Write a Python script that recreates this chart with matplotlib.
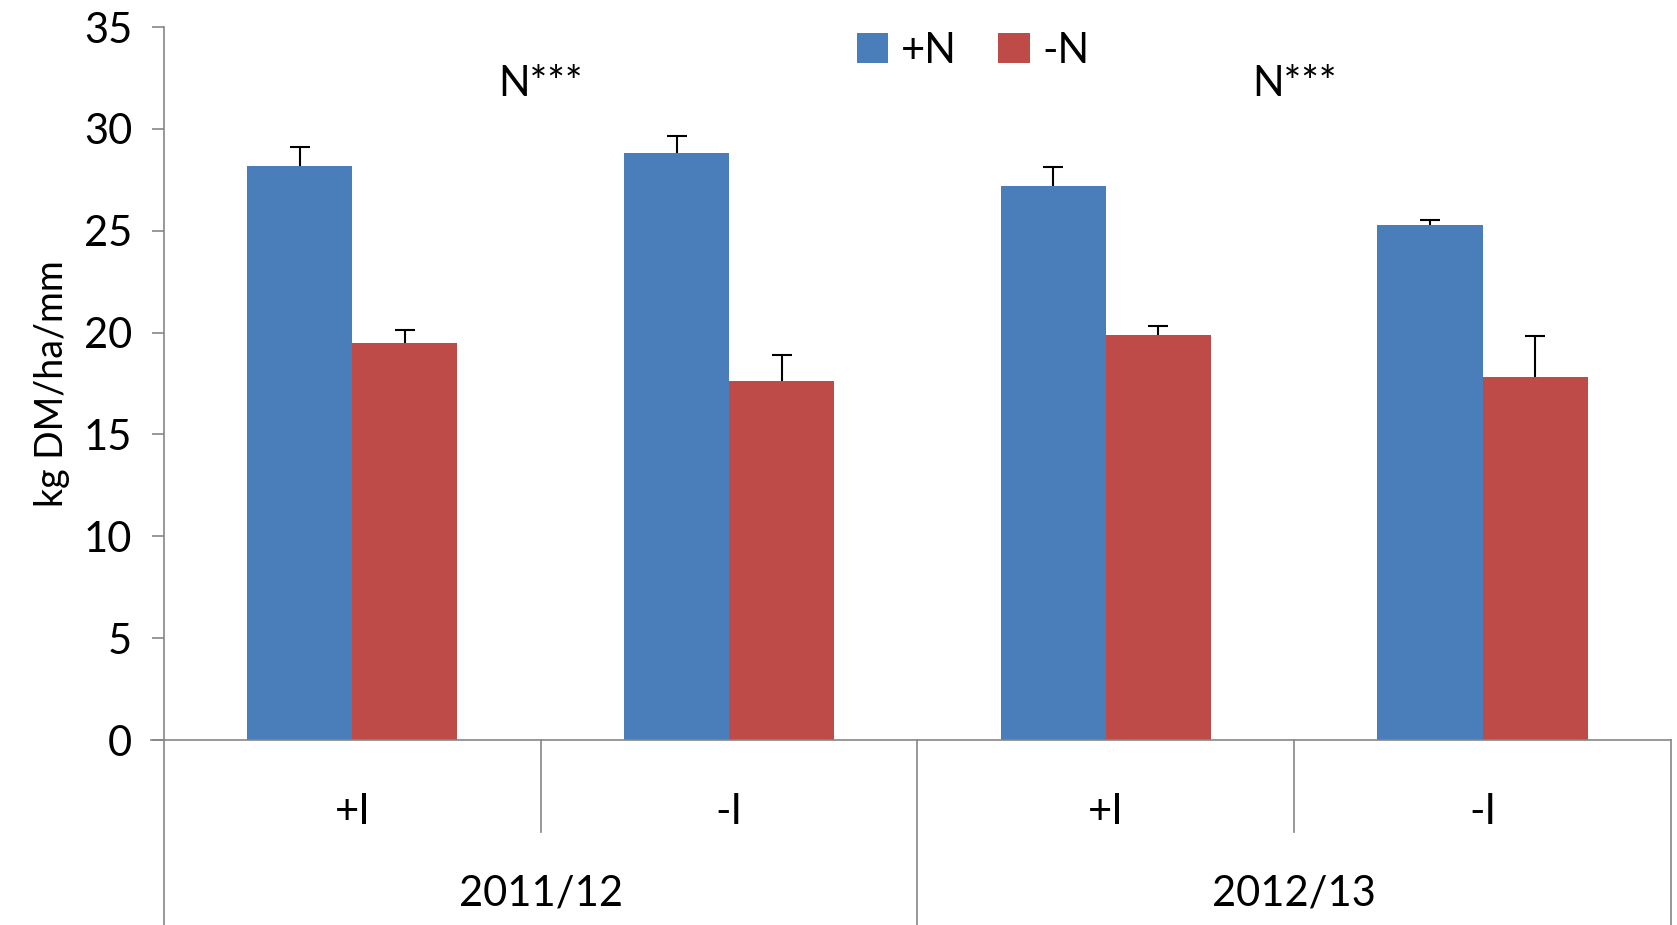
import matplotlib
matplotlib.use("Agg")
import matplotlib.pyplot as plt
import numpy as np
from matplotlib.lines import Line2D
from matplotlib.transforms import blended_transform_factory

plt.rcParams['font.family'] = ['Lato', 'DejaVu Sans']

categories = ["+I", "-I", "+I", "-I"]
years = ["2011/12", "2012/13"]
plus_n = [28.2, 28.8, 27.2, 25.3]
plus_n_err = [0.9, 0.85, 0.95, 0.25]
minus_n = [19.5, 17.6, 19.9, 17.8]
minus_n_err = [0.65, 1.3, 0.4, 2.05]
yticks = [0, 5, 10, 15, 20, 25, 30, 35]
annotations = ["N***", "N***"]

blue = "#4a7ebb"
red = "#be4b48"
grey = "#868686"

fig = plt.figure(figsize=(16.77, 9.25), dpi=100)
ax = fig.add_axes([0.0978, 0.2, 0.8986, 0.7708])

x = np.arange(len(categories))
w = 0.279
ax.bar(x - w / 2, plus_n, w, color=blue, label="+N", zorder=2)
ax.bar(x + w / 2, minus_n, w, color=red, label="-N", zorder=2)
for xs, vals, errs in [(x - w / 2, plus_n, plus_n_err), (x + w / 2, minus_n, minus_n_err)]:
    eb = ax.errorbar(xs, vals, yerr=[np.zeros(len(vals)), errs], fmt="none",
                     ecolor="black", elinewidth=1.5, capsize=7, capthick=1.5, zorder=3)
    caps = eb[1]
    if len(caps) == 2:
        caps[0].set_visible(False)

ax.set_xlim(-0.5, 3.5)
ax.set_ylim(0, 35)
ax.set_yticks(yticks)
ax.set_yticklabels([str(t) for t in yticks], fontsize=30)
ax.tick_params(axis="y", direction="out", length=9, width=1.2, color=grey, pad=14)
ax.set_xticks(x)
ax.set_xticklabels(categories, fontsize=30)
ax.tick_params(axis="x", length=0, pad=38)

for s in ["top", "right"]:
    ax.spines[s].set_visible(False)
ax.spines["left"].set_color(grey)
ax.spines["bottom"].set_color(grey)
ax.spines["left"].set_linewidth(1.2)
ax.spines["bottom"].set_linewidth(1.2)

ax.set_ylabel("kg DM/ha/mm", fontsize=27, labelpad=10)

trans = blended_transform_factory(ax.transData, ax.transAxes)
bottom_frac = -0.2 / 0.7708
for xv in [-0.5, 1.5, 3.5]:
    ax.add_line(Line2D([xv, xv], [0, bottom_frac], transform=trans, color=grey,
                       lw=1.2, clip_on=False))
for xv in [0.5, 2.5]:
    ax.add_line(Line2D([xv, xv], [0, -0.129], transform=trans, color=grey,
                       lw=1.2, clip_on=False))
ax.add_line(Line2D([-0.535, -0.5], [0, 0], transform=trans, color=grey, lw=1.2, clip_on=False))

for i, yr in enumerate(years):
    ax.text(0.5 + 2 * i, -0.215, yr, transform=trans, ha="center", va="center", fontsize=30)

for i, t in enumerate(annotations):
    ax.text(0.5 + 2 * i, 32.2, t, ha="center", va="center", fontsize=30)

leg = ax.legend(loc="center", bbox_to_anchor=(0.537, 0.967), ncol=2, frameon=False,
                fontsize=30, handlelength=0.75, handleheight=0.75, handletextpad=0.3,
                columnspacing=1.0)

fig.savefig("out.png", dpi=100)
